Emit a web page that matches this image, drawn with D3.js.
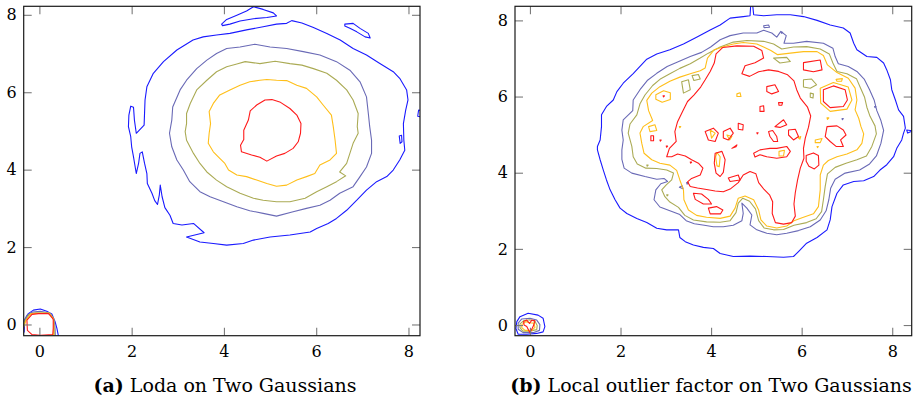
<!DOCTYPE html>
<html lang="en">
<head>
<meta charset="UTF-8">
<script src="https://cdn.jsdelivr.net/npm/d3@7"></script>
<title>Two Gaussians contours</title>
<style>
  body { margin: 0; background: #fff; }
</style>
</head>
<body>
<svg width="917" height="400"></svg>
<script>
// tick values shared by both panels
const xTicks = [0, 2, 4, 6, 8];
const yTicks = [0, 2, 4, 6, 8];
// contour levels, outermost first
const levels = ['blue', 'slate', 'olive', 'gold', 'red'];
const levelColors = ['#1a1aff', '#6a6ab6', '#abab55', '#ffbf1a', '#ff1a1a'];
const serif = '"DejaVu Serif", serif';

// ---- (a) Loda : rings, data units ----
const lodaBlue = [
  [[2.27,5.15],[2.10,4.94],[2.06,5.28],[2.04,5.61],[1.98,5.64],[1.94,5.41],[1.93,5.11],[1.98,4.85],[2.00,4.59],[2.04,4.33],[2.10,3.90],[2.15,4.16],[2.18,4.42],[2.23,4.46],[2.28,4.16],[2.33,3.90],[2.34,3.64],[2.44,3.39],[2.50,3.20],[2.56,3.10],[2.60,3.35],[2.62,3.60],[2.66,3.30],[2.72,3.02],[2.83,2.82],[2.90,2.61],[3.09,2.57],[3.34,2.61],[3.57,2.37],[3.19,2.26],[3.48,2.13],[3.77,2.09],[4.06,2.05],[4.42,2.09],[4.64,2.18],[5.00,2.26],[5.43,2.31],[5.87,2.39],[6.01,2.48],[6.26,2.61],[6.44,2.74],[6.66,2.95],[6.88,3.21],[7.09,3.47],[7.31,3.69],[7.53,3.82],[7.67,3.99],[7.81,4.25],[7.92,4.50],[7.90,4.76],[7.89,5.19],[7.94,5.54],[7.99,5.80],[7.96,6.06],[7.81,6.36],[7.67,6.53],[7.38,6.74],[7.09,6.96],[6.80,7.13],[6.52,7.35],[6.23,7.52],[5.94,7.67],[5.69,7.79],[5.47,7.85],[5.36,7.78],[5.14,7.76],[4.85,7.69],[4.49,7.61],[4.13,7.52],[3.84,7.48],[3.55,7.43],[3.33,7.35],[2.98,7.09],[2.69,6.79],[2.47,6.49],[2.33,6.14],[2.29,5.80]],
  [[3.95,7.76],[4.06,7.88],[4.28,7.99],[4.49,8.10],[4.64,8.21],[4.85,8.14],[5.07,8.05],[5.14,7.97],[4.93,7.93],[4.64,7.90],[4.35,7.84],[4.13,7.76],[3.97,7.72]],
  [[6.62,7.76],[6.80,7.78],[6.95,7.65],[7.13,7.52],[7.17,7.40],[7.06,7.43],[6.88,7.56],[6.73,7.65],[6.62,7.71]],
  [[7.80,4.87],[7.85,4.89],[7.86,4.72],[7.82,4.68]],
  [[8.22,5.54],[8.30,5.52],[8.30,5.36],[8.20,5.38]],
  [[-0.45,-0.45],[-0.33,-0.19],[-0.32,0.11],[-0.24,0.28],[-0.13,0.37],[0.02,0.40],[0.16,0.34],[0.27,0.27],[0.34,0.07],[0.38,-0.10],[0.41,-0.28],[0.42,-0.45]]
];
const lodaSlate = [
  [[4.06,7.13],[4.35,7.17],[4.67,7.24],[5.00,7.17],[5.36,7.13],[5.72,7.05],[6.08,6.96],[6.44,6.79],[6.73,6.57],[6.95,6.27],[7.09,5.88],[7.13,5.45],[7.16,5.11],[7.20,4.76],[7.20,4.42],[7.09,4.07],[6.95,3.82],[6.80,3.56],[6.51,3.39],[6.30,3.21],[6.08,3.08],[5.79,3.00],[5.50,2.91],[5.14,2.80],[4.85,2.87],[4.56,2.94],[4.28,3.04],[3.99,3.17],[3.70,3.30],[3.48,3.43],[3.26,3.69],[3.12,3.99],[2.98,4.25],[2.87,4.59],[2.82,4.94],[2.87,5.28],[2.89,5.62],[3.05,6.06],[3.19,6.31],[3.41,6.61],[3.63,6.83],[3.84,7.00]],
  [[-0.45,-0.45],[-0.34,0.08],[-0.27,0.24],[-0.15,0.32],[0.02,0.34],[0.17,0.31],[0.27,0.22],[0.33,0.06],[0.34,-0.12],[0.35,-0.45]]
];
const lodaOlive = [
  [[4.46,6.79],[4.78,6.74],[5.11,6.80],[5.43,6.74],[5.69,6.70],[5.94,6.61],[6.23,6.49],[6.44,6.31],[6.66,6.06],[6.80,5.80],[6.91,5.45],[6.89,5.11],[6.91,4.94],[6.80,4.68],[6.73,4.42],[6.66,4.16],[6.51,3.94],[6.64,3.84],[6.44,3.69],[6.23,3.56],[6.01,3.43],[5.76,3.26],[5.43,3.17],[5.14,3.17],[4.85,3.21],[4.64,3.26],[4.35,3.39],[4.06,3.56],[3.84,3.73],[3.63,3.94],[3.48,4.16],[3.34,4.42],[3.19,4.76],[3.16,4.98],[3.19,5.19],[3.19,5.45],[3.27,5.71],[3.41,6.06],[3.63,6.31],[3.84,6.53],[4.06,6.66],[4.28,6.73]],
  [[-0.45,-0.45],[-0.31,0.10],[-0.22,0.26],[-0.08,0.30],[0.10,0.30],[0.22,0.30],[0.31,0.15],[0.32,-0.10],[0.32,-0.45]]
];
const lodaGold = [
  [[4.93,6.33],[5.14,6.31],[5.36,6.30],[5.58,6.18],[5.79,6.10],[6.01,5.88],[6.15,5.67],[6.33,5.41],[6.37,5.11],[6.41,4.76],[6.44,4.42],[6.30,4.25],[6.08,4.12],[5.97,3.90],[5.79,3.82],[5.58,3.73],[5.36,3.60],[5.14,3.57],[4.93,3.64],[4.71,3.73],[4.49,3.82],[4.28,3.86],[4.10,3.99],[4.02,4.16],[3.91,4.29],[3.77,4.46],[3.66,4.68],[3.68,4.94],[3.71,5.19],[3.68,5.50],[3.77,5.71],[3.91,5.93],[4.13,6.06],[4.35,6.18],[4.56,6.27],[4.78,6.31]],
  [[-0.45,-0.45],[-0.29,0.11],[-0.18,0.28],[0.00,0.29],[0.21,0.29],[0.31,0.14],[0.31,-0.10],[0.31,-0.45]]
];
const lodaRed = [
  [[5.04,5.81],[5.21,5.75],[5.43,5.58],[5.58,5.41],[5.67,5.19],[5.66,4.94],[5.61,4.72],[5.50,4.55],[5.32,4.42],[5.14,4.35],[4.93,4.22],[4.78,4.32],[4.60,4.38],[4.38,4.46],[4.36,4.63],[4.43,4.78],[4.43,5.02],[4.53,5.28],[4.57,5.52],[4.71,5.67],[4.89,5.80]],
  [[-0.27,0.11],[-0.16,0.26],[-0.02,0.28],[0.20,0.28],[0.30,0.14],[0.30,-0.10],[0.29,-0.26],[0.02,-0.28],[-0.16,-0.26],[-0.26,-0.15]]
];

// ---- (b) Local outlier factor ----
const lofBlue = [
  [[4.91,8.50],[4.94,8.15],[5.16,8.12],[5.45,8.15],[5.75,8.15],[6.04,8.10],[6.34,8.00],[6.63,7.88],[6.92,7.80],[7.07,7.67],[7.15,7.40],[7.22,7.23],[7.44,7.05],[7.66,7.03],[7.81,6.88],[7.88,6.70],[7.96,6.44],[7.99,6.18],[8.07,5.91],[8.14,5.65],[8.25,5.48],[8.29,5.17],[8.25,5.04],[8.21,4.86],[8.10,4.64],[8.03,4.42],[7.88,4.21],[7.73,4.07],[7.59,3.90],[7.37,3.79],[7.15,3.77],[6.92,3.68],[6.78,3.46],[6.67,3.11],[6.63,2.76],[6.56,2.50],[6.34,2.30],[6.11,2.15],[5.93,1.93],[5.82,1.80],[5.60,1.78],[5.23,1.80],[4.86,1.81],[4.49,1.80],[4.20,1.88],[4.05,2.01],[3.83,2.04],[3.61,2.10],[3.43,2.19],[3.31,2.30],[3.28,2.50],[3.02,2.50],[2.80,2.54],[2.58,2.69],[2.36,2.80],[2.14,2.93],[1.99,3.07],[1.88,3.29],[1.77,3.55],[1.69,3.81],[1.62,4.07],[1.55,4.34],[1.49,4.60],[1.49,4.69],[1.55,4.86],[1.58,5.21],[1.58,5.52],[1.69,5.74],[1.84,5.91],[1.92,6.13],[2.06,6.35],[2.28,6.60],[2.43,6.79],[2.58,6.98],[2.80,7.12],[3.09,7.23],[3.39,7.38],[3.68,7.56],[3.98,7.75],[4.20,7.88],[4.42,8.06],[4.71,8.10],[4.86,8.12],[4.88,8.50]],
  [[8.32,5.12],[8.45,5.10],[8.34,5.04]],
  [[-0.29,0.09],[-0.22,0.22],[-0.04,0.31],[0.18,0.26],[0.29,0.18],[0.33,-0.04],[0.29,-0.18],[0.15,-0.22],[-0.07,-0.24],[-0.26,-0.24],[-0.31,-0.09]]
];
const lofSlate = [
  [[4.20,7.49],[4.42,7.60],[4.71,7.67],[5.01,7.67],[5.16,7.74],[5.34,7.67],[5.45,7.56],[5.54,7.71],[5.66,7.60],[5.61,7.40],[5.82,7.40],[6.11,7.45],[6.48,7.40],[6.69,7.27],[6.74,7.05],[6.81,6.86],[7.03,6.79],[7.22,6.66],[7.38,6.46],[7.50,6.18],[7.60,5.91],[7.66,5.63],[7.75,5.37],[7.81,5.11],[7.75,4.77],[7.65,4.44],[7.50,4.23],[7.28,4.07],[6.96,3.99],[6.74,3.83],[6.64,3.59],[6.60,3.29],[6.54,3.00],[6.41,2.76],[6.19,2.58],[5.93,2.48],[5.67,2.41],[5.45,2.37],[5.23,2.41],[5.01,2.50],[4.86,2.63],[4.90,2.89],[4.79,3.07],[4.68,3.20],[4.71,2.93],[4.68,2.74],[4.49,2.62],[4.27,2.58],[4.05,2.58],[3.85,2.62],[3.63,2.66],[3.45,2.74],[3.31,2.90],[3.09,3.00],[2.87,3.10],[2.74,3.29],[2.78,3.55],[2.89,3.71],[3.04,3.77],[2.96,3.85],[2.80,3.83],[2.54,3.90],[2.25,3.99],[2.08,4.12],[2.03,4.35],[2.03,4.60],[2.06,4.86],[2.03,5.12],[2.06,5.39],[2.27,5.63],[2.28,5.91],[2.43,6.18],[2.59,6.42],[2.80,6.61],[3.03,6.79],[3.26,6.91],[3.54,7.05],[3.79,7.16],[3.99,7.30]],
  [[5.16,7.86],[5.27,7.88],[5.29,7.82],[5.17,7.81]],
  [[7.61,5.74],[7.64,5.74],[7.62,5.71]],
  [[6.89,5.42],[6.92,5.42],[6.90,5.39]],
  [[5.55,7.69],[5.58,7.69],[5.56,7.66]],
  [[3.30,3.62],[3.36,3.66],[3.38,3.58]],
  [[3.46,3.74],[3.50,3.74],[3.47,3.70]],
  [[-0.26,0.05],[-0.18,0.16],[0.00,0.18],[0.15,0.13],[0.22,0.01],[0.21,-0.14],[0.07,-0.20],[-0.15,-0.20],[-0.26,-0.11]]
];
const lofOlive = [
  [[3.76,7.01],[3.94,7.14],[4.20,7.30],[4.49,7.43],[4.79,7.47],[5.16,7.45],[5.38,7.38],[5.56,7.25],[5.82,7.30],[6.11,7.31],[6.41,7.25],[6.61,7.12],[6.69,6.88],[6.78,6.66],[7.00,6.60],[7.21,6.47],[7.29,6.25],[7.39,5.98],[7.44,5.72],[7.51,5.48],[7.62,5.23],[7.65,5.02],[7.55,4.69],[7.43,4.44],[7.22,4.34],[6.98,4.25],[6.74,4.14],[6.57,3.97],[6.52,3.64],[6.48,3.29],[6.44,2.98],[6.32,2.79],[6.11,2.69],[5.83,2.62],[5.60,2.51],[5.38,2.50],[5.17,2.55],[5.05,2.74],[4.98,3.05],[4.85,3.25],[4.70,3.33],[4.60,3.20],[4.55,2.95],[4.42,2.74],[4.20,2.70],[3.90,2.71],[3.61,2.76],[3.42,2.88],[3.28,3.09],[3.09,3.23],[2.98,3.37],[2.91,3.55],[3.01,3.68],[3.13,3.81],[3.17,3.99],[3.02,4.07],[2.80,4.11],[2.56,4.12],[2.37,4.23],[2.28,4.42],[2.25,4.69],[2.17,5.04],[2.21,5.28],[2.36,5.52],[2.43,5.81],[2.54,6.04],[2.71,6.29],[2.89,6.47],[3.09,6.60],[3.31,6.74],[3.54,6.86]],
  [[3.35,6.39],[3.50,6.44],[3.54,6.18],[3.39,6.09]],
  [[3.58,6.55],[3.72,6.58],[3.76,6.46],[3.62,6.42]],
  [[5.38,7.01],[5.67,7.03],[5.75,6.92],[5.52,6.88]],
  [[6.04,6.44],[6.22,6.46],[6.33,6.31],[6.19,6.22],[6.04,6.25]],
  [[6.19,6.09],[6.26,6.07],[6.25,5.96],[6.19,5.98]],
  [[2.58,4.20],[2.61,4.20],[2.59,4.17]],
  [[3.02,3.42],[3.05,3.42],[3.03,3.39]],
  [[-0.22,0.03],[-0.13,0.12],[0.00,0.14],[0.11,0.10],[0.16,-0.01],[0.15,-0.12],[0.00,-0.16],[-0.16,-0.16],[-0.22,-0.07]]
];
const lofGold = [
  [[3.87,6.75],[3.92,7.01],[4.07,7.23],[4.27,7.31],[4.49,7.38],[4.71,7.42],[5.01,7.38],[5.16,7.30],[5.32,7.21],[5.47,7.10],[5.75,7.14],[6.04,7.18],[6.34,7.18],[6.48,7.08],[6.57,6.83],[6.78,6.63],[7.03,6.48],[7.18,6.22],[7.22,5.91],[7.18,5.65],[7.26,5.43],[7.31,5.21],[7.37,5.02],[7.33,4.77],[7.22,4.60],[7.00,4.49],[6.78,4.42],[6.59,4.32],[6.48,4.20],[6.41,3.94],[6.41,3.55],[6.37,3.11],[6.26,2.92],[6.04,2.83],[5.83,2.74],[5.67,2.60],[5.45,2.55],[5.23,2.60],[5.10,2.76],[5.05,3.02],[4.94,3.29],[4.75,3.39],[4.60,3.33],[4.53,3.07],[4.42,2.86],[4.20,2.80],[3.90,2.83],[3.68,2.88],[3.50,3.02],[3.40,3.29],[3.39,3.55],[3.31,3.81],[3.24,4.06],[3.09,4.20],[2.87,4.25],[2.69,4.34],[2.52,4.51],[2.47,4.77],[2.43,5.04],[2.50,5.21],[2.71,5.37],[2.62,5.63],[2.58,5.90],[2.69,6.09],[2.87,6.26],[3.09,6.40],[3.31,6.51],[3.54,6.60],[3.76,6.68]],
  [[6.41,6.22],[6.70,6.37],[7.03,6.25],[7.11,5.91],[7.00,5.67],[6.63,5.61],[6.42,5.83]],
  [[2.78,6.05],[2.95,6.15],[3.10,6.10],[3.10,5.92],[2.92,5.85],[2.78,5.93]],
  [[4.57,6.07],[4.64,6.10],[4.66,6.00],[4.57,6.00]],
  [[2.62,5.21],[2.76,5.26],[2.80,5.11],[2.65,5.08]],
  [[3.98,5.12],[4.09,5.04],[4.01,4.91]],
  [[4.35,4.99],[4.46,4.95],[4.41,4.86]],
  [[4.13,4.53],[4.20,4.42],[4.18,4.16],[4.13,4.18],[4.10,4.42]],
  [[5.50,4.56],[5.62,4.59],[5.60,4.44],[5.50,4.44]],
  [[6.30,4.86],[6.45,4.90],[6.41,4.79],[6.30,4.79]],
  [[6.76,6.45],[6.90,6.47],[6.88,6.40],[6.78,6.40]],
  [[5.92,4.92],[5.98,4.95],[5.96,4.88]],
  [[6.56,5.44],[6.60,5.44],[6.57,5.40]],
  [[6.34,4.69],[6.37,4.69],[6.35,4.66]],
  [[3.30,5.21],[3.33,5.21],[3.31,5.18]],
  [[-0.18,0.01],[-0.09,0.09],[0.00,0.06],[0.09,0.05],[0.11,-0.06],[0.04,-0.14],[-0.11,-0.14],[-0.18,-0.07]]
];
const lofRed = [
  [[3.02,4.42],[3.08,4.64],[3.23,4.82],[3.20,5.08],[3.26,5.34],[3.37,5.61],[3.48,5.87],[3.62,6.04],[3.77,6.25],[3.87,6.44],[3.98,6.66],[4.07,6.88],[4.11,7.12],[4.26,7.29],[4.57,7.33],[4.94,7.32],[5.12,7.21],[5.16,7.01],[4.97,6.89],[4.75,6.81],[4.68,6.60],[4.85,6.53],[5.05,6.65],[5.27,6.70],[5.49,6.66],[5.69,6.57],[5.83,6.41],[5.89,6.18],[5.97,5.96],[6.13,5.72],[6.20,5.49],[6.15,5.19],[6.08,4.91],[6.04,4.64],[6.05,4.38],[5.97,4.12],[5.91,3.81],[5.86,3.48],[5.83,3.18],[5.86,2.86],[5.78,2.69],[5.60,2.65],[5.42,2.69],[5.35,2.93],[5.36,3.24],[5.29,3.42],[5.17,3.56],[5.05,3.74],[4.99,3.97],[4.86,4.03],[4.71,3.94],[4.60,3.74],[4.42,3.57],[4.27,3.50],[4.09,3.52],[3.90,3.56],[3.70,3.60],[3.54,3.64],[3.48,3.76],[3.57,3.85],[3.76,3.94],[3.82,4.12],[3.72,4.25],[3.57,4.34],[3.43,4.44],[3.26,4.49],[3.13,4.42]],
  [[3.87,5.08],[4.05,5.17],[4.16,5.04],[4.09,4.82],[3.94,4.86]],
  [[4.27,5.08],[4.42,5.17],[4.49,5.04],[4.38,4.86],[4.27,4.91]],
  [[4.60,5.30],[4.71,5.26],[4.70,5.12],[4.60,5.14]],
  [[5.08,5.74],[5.16,5.76],[5.17,5.61],[5.08,5.61]],
  [[5.49,5.84],[5.58,5.84],[5.56,5.77],[5.50,5.77]],
  [[5.41,5.21],[5.60,5.39],[5.67,5.26],[5.52,5.19]],
  [[5.27,5.08],[5.36,5.11],[5.45,4.95],[5.47,4.82],[5.38,4.82],[5.30,4.95]],
  [[5.71,5.12],[5.86,5.14],[5.93,4.95],[5.82,4.86],[5.71,4.99]],
  [[4.94,4.51],[5.08,4.60],[5.30,4.64],[5.45,4.64],[5.67,4.69],[5.75,4.56],[5.67,4.42],[5.45,4.38],[5.23,4.42],[5.08,4.47],[4.97,4.41]],
  [[4.09,4.51],[4.24,4.56],[4.31,4.34],[4.27,4.01],[4.20,3.90],[4.11,3.99],[4.07,4.25]],
  [[4.38,3.86],[4.60,3.94],[4.64,3.81],[4.42,3.77]],
  [[4.46,4.64],[4.57,4.73],[4.55,4.68]],
  [[5.23,6.26],[5.41,6.31],[5.49,6.13],[5.34,6.07],[5.23,6.13]],
  [[6.04,6.89],[6.41,6.96],[6.45,6.70],[6.26,6.65],[6.04,6.70]],
  [[6.48,6.18],[6.70,6.28],[6.96,6.18],[7.01,5.91],[6.92,5.74],[6.63,5.71],[6.48,5.87]],
  [[6.56,5.21],[6.78,5.23],[6.92,5.12],[6.98,4.99],[6.86,4.86],[6.92,4.69],[6.76,4.69],[6.63,4.82],[6.52,4.95]],
  [[6.10,4.45],[6.26,4.52],[6.37,4.45],[6.38,4.20],[6.28,4.10],[6.16,4.17],[6.10,4.30]],
  [[3.61,3.46],[3.79,3.44],[3.94,3.30],[4.01,3.18],[3.83,3.18],[3.65,3.30]],
  [[3.94,3.07],[4.12,3.11],[4.26,3.02],[4.21,2.92],[3.98,2.92]],
  [[2.67,4.97],[2.73,4.97],[2.73,4.84],[2.67,4.84]],
  [[2.87,4.86],[2.90,4.86],[2.88,4.83]],
  [[3.01,4.70],[3.04,4.70],[3.02,4.67]],
  [[2.94,6.02],[2.97,6.02],[2.95,5.99]],
  [[5.01,5.05],[5.04,5.05],[5.02,5.02]],
  [[3.54,4.28],[3.57,4.28],[3.55,4.25]],
  [[-0.14,0.09],[-0.07,0.13],[-0.01,0.04],[0.04,0.13],[0.11,0.11],[0.07,-0.04],[0.00,-0.20],[-0.07,-0.04],[-0.13,0.00]]
];

const svg = d3.select('svg');

const panels = [
  {
    id: 'loda', label: '(a)', caption: ' Loda on Two Gaussians', captionX: 225,
    xDomain: [-0.34, 8.25], yDomain: [-0.29, 8.22],
    left: 23.7, right: 420, top: 6.3, bottom: 335.7,
    contours: [lodaBlue, lodaSlate, lodaOlive, lodaGold, lodaRed]
  },
  {
    id: 'lof', label: '(b)', caption: ' Local outlier factor on Two Gaussians', captionX: 711,
    xDomain: [-0.33, 8.43], yDomain: [-0.28, 8.37],
    left: 515, right: 911.7, top: 6.3, bottom: 335.7,
    contours: [lofBlue, lofSlate, lofOlive, lofGold, lofRed]
  }
];

panels.forEach(function(p) {
  const x = d3.scaleLinear().domain(p.xDomain).range([p.left, p.right]);
  const y = d3.scaleLinear().domain(p.yDomain).range([p.bottom, p.top]);

  svg.append('clipPath').attr('id', 'clip-' + p.id)
    .append('rect')
    .attr('x', p.left).attr('y', p.top)
    .attr('width', p.right - p.left).attr('height', p.bottom - p.top);

  const line = d3.line()
    .x(d => x(d[0]))
    .y(d => y(d[1]))
    .curve(d3.curveLinearClosed);

  const g = svg.append('g').attr('clip-path', 'url(#clip-' + p.id + ')');
  p.contours.forEach(function(rings, i) {
    g.append('g')
      .attr('class', levels[i])
      .selectAll('path')
      .data(rings)
      .enter()
      .append('path')
      .attr('d', line)
      .attr('fill', 'none')
      .attr('stroke', levelColors[i])
      .attr('stroke-width', 1.1)
      .attr('stroke-linejoin', 'round');
  });

  // inward ticks on all four sides, labels only bottom and left
  const axes = [
    { ax: d3.axisBottom(x).tickValues(xTicks).tickPadding(10), t: `translate(0,${p.bottom})`, lab: true },
    { ax: d3.axisLeft(y).tickValues(yTicks).tickPadding(7), t: `translate(${p.left},0)`, lab: true },
    { ax: d3.axisTop(x).tickValues(xTicks), t: `translate(0,${p.top})`, lab: false },
    { ax: d3.axisRight(y).tickValues(yTicks), t: `translate(${p.right},0)`, lab: false }
  ];
  axes.forEach(function(a) {
    a.ax.tickSizeInner(-8).tickSizeOuter(0);
    if (!a.lab) a.ax.tickFormat('');
    const ag = svg.append('g').attr('transform', a.t).call(a.ax)
      .attr('font-family', serif)
      .attr('font-size', 16);
    ag.select('.domain').remove();
    ag.selectAll('.tick line').attr('stroke', '#7a7a7a').attr('stroke-width', 1.1);
    ag.selectAll('.tick text').attr('fill', '#000');
  });

  svg.append('rect')
    .attr('x', p.left).attr('y', p.top)
    .attr('width', p.right - p.left).attr('height', p.bottom - p.top)
    .attr('fill', 'none')
    .attr('stroke', '#1a1a1a')
    .attr('stroke-width', 1.2);

  const cap = svg.append('text')
    .attr('x', p.captionX)
    .attr('y', 392)
    .attr('text-anchor', 'middle')
    .attr('font-family', serif)
    .attr('font-size', 19);
  cap.append('tspan').attr('font-weight', 'bold').text(p.label);
  cap.append('tspan').text(p.caption);
});
</script>
</body>
</html>
